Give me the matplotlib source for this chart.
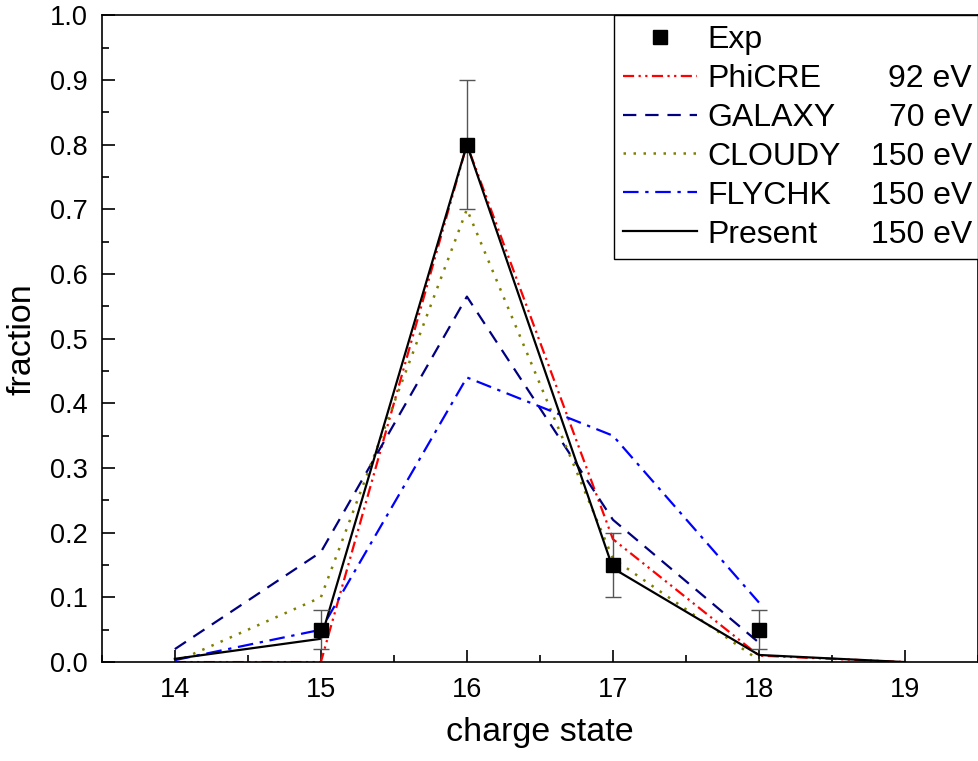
import numpy as np
import matplotlib.pyplot as plt

plt.rcParams['font.family'] = ['Liberation Sans', 'DejaVu Sans']

# charge states
charge = [14, 15, 16, 17, 18, 19]

# experiment
exp_q = [15, 16, 17, 18]
exp_frac = [0.05, 0.80, 0.15, 0.05]
exp_err = [0.03, 0.10, 0.05, 0.03]

# models
phicre = [0.0, 0.0, 0.80, 0.19, 0.01, 0.0]
galaxy_q = [14, 15, 16, 17, 18]
galaxy = [0.02, 0.17, 0.565, 0.22, 0.03]
cloudy_q = [14, 15, 16, 17, 18]
cloudy = [0.0, 0.10, 0.70, 0.16, 0.003]
flychk_q = [14, 15, 16, 17, 18]
flychk = [0.003, 0.05, 0.44, 0.35, 0.092]
present = [0.005, 0.036, 0.80, 0.145, 0.011, 0.0]

names = ['PhiCRE', 'GALAXY', 'CLOUDY', 'FLYCHK', 'Present']
energies = ['92 eV', '70 eV', '150 eV', '150 eV', '150 eV']

fig = plt.figure(figsize=(9.79, 7.61), dpi=100)
ax = fig.add_axes([0.104, 0.130, 0.895, 0.850])

ax.plot(charge, phicre, color='red', lw=1.6, ls=(0, (5, 2, 1, 2, 1, 2)), label=names[0])
ax.plot(galaxy_q, galaxy, color='#000080', lw=1.6, ls=(0, (6, 4)), label=names[1])
ax.plot(cloudy_q, cloudy, color='#808000', lw=1.8, ls=(0, (1, 3)), label=names[2])
ax.plot(flychk_q, flychk, color='#0000ff', lw=1.6, ls=(0, (7, 3, 1.5, 3)), label=names[3])
ax.plot(charge, present, color='black', lw=1.6, label=names[4])

# experimental points with error bars
ax.errorbar(exp_q, exp_frac, yerr=exp_err, fmt='none', ecolor='#555555',
            elinewidth=1, capsize=6, capthick=1, zorder=4)
ax.plot(exp_q, exp_frac, 's', color='black', ms=10, ls='none', label='Exp', zorder=5)

ax.set_xlim(13.5, 19.5)
ax.set_ylim(0, 1.0)
ax.set_xticks([14, 15, 16, 17, 18, 19])
ax.set_xticks(np.arange(13.5, 19.6, 0.5), minor=True)
ax.set_yticks(np.arange(0, 1.01, 0.1))
ax.set_yticks(np.arange(0.05, 1.0, 0.1), minor=True)
ax.set_yticklabels([f'{v:.1f}' for v in np.arange(0, 1.01, 0.1)])
ax.tick_params(which='major', direction='in', length=9, width=1.2, labelsize=19.5)
ax.tick_params(axis='x', which='major', pad=11)
ax.tick_params(axis='y', which='major', pad=10)
ax.tick_params(which='minor', direction='in', length=5, width=1.2)
for s in ax.spines.values():
    s.set_linewidth(1.2)

ax.set_xlabel('charge state', fontsize=24.5, labelpad=10)
ax.set_ylabel('fraction', fontsize=24.5, labelpad=9)

# legend: Exp first, then models; stretched to leave room for energies
handles, labels = ax.get_legend_handles_labels()
order = [5, 0, 1, 2, 3, 4]
leg = ax.legend([handles[i] for i in order], [labels[i] for i in order],
                loc='upper right', bbox_to_anchor=(0.584, 0.0, 0.416, 1.0),
                mode='expand', fontsize=23, frameon=True, fancybox=False,
                edgecolor='black', borderaxespad=0.0, handlelength=2.3,
                labelspacing=0.28, borderpad=0.3, handletextpad=0.35)
leg.get_frame().set_linewidth(1.0)
leg.get_frame().set_alpha(1.0)

# energy column, right aligned inside the legend box
fig.canvas.draw()
texts = leg.get_texts()
frame = leg.get_frame().get_window_extent()
inv = fig.transFigure.inverted()
for t, e in zip(texts[1:], energies):
    bb = t.get_window_extent()
    ymid = (bb.y0 + bb.y1) / 2
    x_fig, y_fig = inv.transform((frame.x1 - 6, ymid))
    fig.text(x_fig, y_fig, e, ha='right', va='center', fontsize=23)

fig.savefig('out.png', dpi=100)
